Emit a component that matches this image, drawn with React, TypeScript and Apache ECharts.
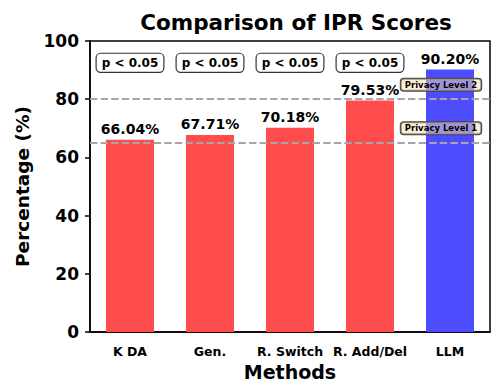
import React, { useEffect, useRef } from "react";
import * as echarts from "echarts";

const categories = ["K DA", "Gen.", "R. Switch", "R. Add/Del", "LLM"];
const scores = [66.04, 67.71, 70.18, 79.53, 90.2];
const barColors = ["#ff4d4d", "#ff4d4d", "#ff4d4d", "#ff4d4d", "#4d4dff"];
const pLabels = ["p < 0.05", "p < 0.05", "p < 0.05", "p < 0.05"];
const pLabelY = 92.5;
const thresholds = [65, 80];
const thresholdLabels = ["Privacy Level 1", "Privacy Level 2"];
const thresholdLabelOffset = 5;
const yTicks = { min: 0, max: 100, interval: 20 };

const FONT = "DejaVu Sans";

export default function App() {
  const ref = useRef<HTMLDivElement>(null);
  useEffect(() => {
    const chart = echarts.init(ref.current!, null, { renderer: "svg" });
    const pPoints = pLabels.map((t, i) => ({
      coord: [categories[i], pLabelY],
      value: t,
      label: {
        show: true,
        formatter: t,
        fontFamily: FONT,
        fontWeight: "bold",
        fontSize: 12,
        color: "#000",
        backgroundColor: "#fff",
        borderColor: "#333",
        borderWidth: 1.2,
        borderRadius: 4,
        padding: [3, 5, 3, 5],
      },
    }));
    const tPoints = thresholds.map((v, i) => ({
      coord: [categories[categories.length - 1], v + thresholdLabelOffset],
      value: thresholdLabels[i],
      label: {
        show: true,
        formatter: thresholdLabels[i],
        offset: [-9, 0],
        fontFamily: FONT,
        fontWeight: "bold",
        fontSize: 8.5,
        color: "#000",
        backgroundColor: "rgba(245,222,179,0.5)",
        borderColor: "#444",
        borderWidth: 1,
        borderRadius: 3,
        padding: [2, 4, 1, 4],
      },
    }));
    chart.setOption({
      animation: false,
      title: {
        text: "Comparison of IPR Scores",
        left: 291,
        top: 6,
        textAlign: "center",
        textStyle: { fontFamily: FONT, fontWeight: "bold", fontSize: 21.5, color: "#000" },
      },
      grid: {
        left: 90,
        right: 13,
        top: 41,
        bottom: 55,
        show: true,
        borderColor: "#000",
        borderWidth: 1.5,
        backgroundColor: "transparent",
      },
      xAxis: {
        type: "category",
        data: categories,
        name: "Methods",
        nameLocation: "middle",
        nameGap: 30,
        nameTextStyle: { fontFamily: FONT, fontWeight: "bold", fontSize: 19, color: "#000" },
        axisLine: { lineStyle: { color: "#000", width: 1.5 } },
        axisTick: { alignWithLabel: true, length: 5, lineStyle: { color: "#000", width: 1.5 } },
        axisLabel: { fontFamily: FONT, fontWeight: "bold", fontSize: 12.5, color: "#000", margin: 13, interval: 0 },
      },
      yAxis: {
        type: "value",
        min: yTicks.min,
        max: yTicks.max,
        interval: yTicks.interval,
        name: "Percentage (%)",
        nameLocation: "middle",
        nameGap: 58,
        nameTextStyle: { fontFamily: FONT, fontWeight: "bold", fontSize: 18.5, color: "#000" },
        axisLine: { show: true, lineStyle: { color: "#000", width: 1.5 } },
        axisTick: { show: true, length: 5, lineStyle: { color: "#000", width: 1.5 } },
        axisLabel: { fontFamily: FONT, fontWeight: "bold", fontSize: 17, color: "#000", margin: 11 },
        splitLine: { show: false },
      },
      series: [
        {
          type: "bar",
          barWidth: "60%",
          data: scores.map((v, i) => ({ value: v, itemStyle: { color: barColors[i] } })),
          label: {
            show: true,
            position: "top",
            distance: 4,
            formatter: (p: any) => `${Number(p.value).toFixed(2)}%`,
            fontFamily: FONT,
            fontWeight: "bold",
            fontSize: 14,
            color: "#000",
          },
          markLine: {
            silent: true,
            symbol: "none",
            label: { show: false },
            lineStyle: { color: "#a6a6a6", width: 2, type: [7.4, 3.2] },
            data: thresholds.map((v) => ({ yAxis: v })),
          },
          markPoint: {
            symbol: "circle",
            symbolSize: 0,
            data: [...pPoints, ...tPoints],
          },
        },
      ],
    });
    return () => chart.dispose();
  }, []);
  return <div ref={ref} style={{ position: "absolute", left: 0, top: 0, width: 503, height: 387 }} />;
}
